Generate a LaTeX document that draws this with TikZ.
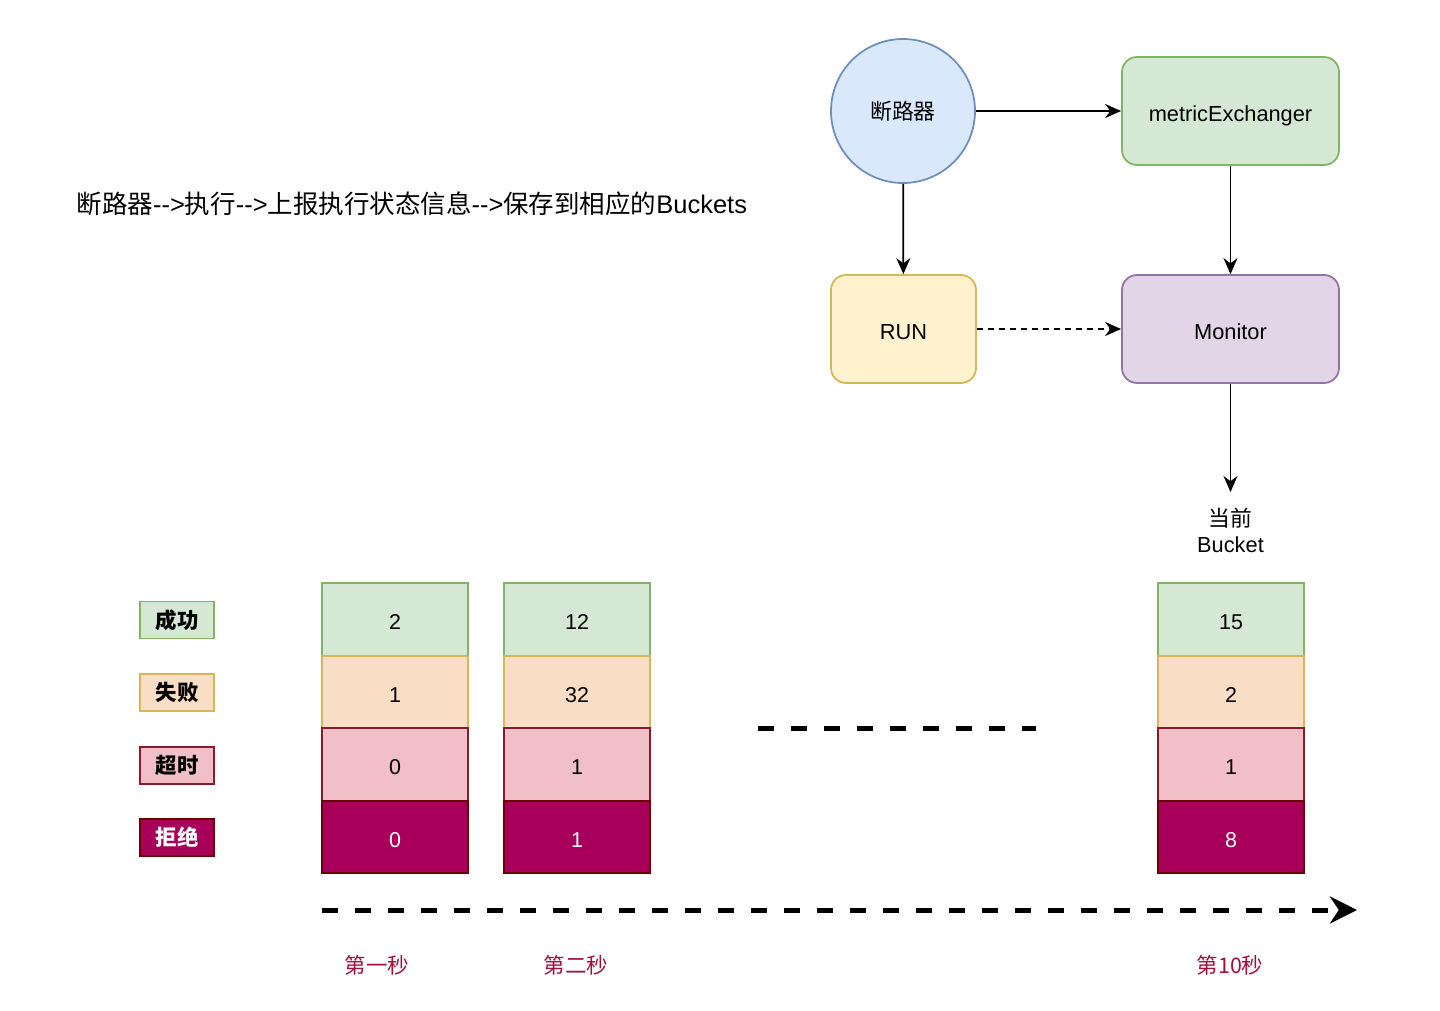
\documentclass[tikz,border=0pt]{standalone}
\usepackage{fontspec}
\setmainfont{Liberation Sans}
\newfontfamily\cjk{Noto Sans CJK SC}
\usetikzlibrary{arrows.meta, positioning}

\definecolor{circfill}{HTML}{DAE8FC}
\definecolor{circdraw}{HTML}{6C8EBF}
\definecolor{okfill}{HTML}{D5E8D4}
\definecolor{okdraw}{HTML}{82B366}
\definecolor{runfill}{HTML}{FFF2CC}
\definecolor{rundraw}{HTML}{D6B656}
\definecolor{monfill}{HTML}{E1D5E7}
\definecolor{mondraw}{HTML}{9673A6}
\definecolor{failfill}{HTML}{F9DDC4}
\definecolor{faildraw}{HTML}{D6B656}
\definecolor{tofill}{HTML}{F0BFC7}
\definecolor{todraw}{HTML}{8B1A2B}
\definecolor{rejfill}{HTML}{A8005A}
\definecolor{rejdraw}{HTML}{6F0000}
\definecolor{seclabel}{HTML}{A0103A}

\tikzstyle{box} = [rectangle, rounded corners=0.15cm, minimum width=2.17cm, minimum height=1.08cm, text centered, text height=0.72em, text depth=0.1em, line width=0.5pt, font=\fontsize{6.2pt}{7.5pt}\selectfont]
\tikzstyle{cell} = [rectangle, minimum width=1.46cm, minimum height=0.725cm, inner sep=0pt, outer sep=0pt, text height=0.72em, text depth=0.15em, line width=0.5pt, font=\fontsize{6.1pt}{7.5pt}\selectfont]
\tikzstyle{legend} = [rectangle, minimum width=0.74cm, minimum height=0.37cm, inner sep=0pt, line width=0.5pt, font=\cjk\bfseries\fontsize{6.1pt}{7.5pt}\selectfont]
\tikzstyle{ok} = [fill=okfill, draw=okdraw]
\tikzstyle{fail} = [fill=failfill, draw=faildraw]
\tikzstyle{tmo} = [fill=tofill, draw=todraw]
\tikzstyle{rej} = [fill=rejfill, draw=rejdraw, text=white]
\tikzstyle{arrow} = [line width=0.5pt, -{Stealth[length=0.16cm, width=0.14cm]}]
\tikzstyle{seconds} = [text=seclabel, font=\cjk\fontsize{6.1pt}{7.5pt}\selectfont]

\begin{document}
\begin{tikzpicture}
\useasboundingbox (0,0) rectangle (14.4,-10.1);

% Title
\node (title) [anchor=west, font=\fontsize{7.25pt}{8.5pt}\selectfont, inner sep=0pt] at (0.76,-2.04)
  {{\cjk 断路器}{-}{-}>{\cjk 执行}{-}{-}>{\cjk 上报执行状态信息}{-}{-}>{\cjk 保存到相应的}Buckets};

% Flow
\node (breaker) [circle, minimum size=1.44cm, fill=circfill, draw=circdraw, line width=0.5pt, font=\cjk\fontsize{6.2pt}{7.5pt}\selectfont] at (9.03,-1.11) {断路器};
\node (exchanger) [box, fill=okfill, draw=okdraw] at (12.305,-1.11) {metricExchanger};
\node (run) [box, minimum width=1.45cm, fill=runfill, draw=rundraw] at (9.035,-3.29) {RUN};
\node (monitor) [box, fill=monfill, draw=mondraw] at (12.305,-3.29) {Monitor};
\coordinate (current) at (12.305,-4.92);
\node (curlabel) [align=center, font=\fontsize{6.2pt}{7.4pt}\selectfont] at (12.305,-5.30) {{\cjk 当前}\\Bucket};

\draw [arrow] (breaker) -- (exchanger);
\draw [arrow] (breaker) -- (run);
\draw [arrow] (exchanger) -- (monitor);
\draw [arrow, dash pattern=on 0.06cm off 0.05cm] (run) -- (monitor);
\draw [arrow] (monitor) -- (current);

% Legend
\node (lok) [legend, ok] at (1.77,-6.20) {成功};
\node (lfail) [legend, fail] at (1.77,-6.925) {失败};
\node (ltmo) [legend, tmo] at (1.77,-7.655) {超时};
\node (lrej) [legend, rej] at (1.77,-8.375) {拒绝};

% Buckets
\node (aok) [cell, ok] at (3.95,-6.195) {2};
\node (afail) [cell, fail, below=0pt of aok] {1};
\node (atmo) [cell, tmo, below=0pt of afail] {0};
\node (arej) [cell, rej, below=0pt of atmo] {0};

\node (bok) [cell, ok] at (5.77,-6.195) {12};
\node (bfail) [cell, fail, below=0pt of bok] {32};
\node (btmo) [cell, tmo, below=0pt of bfail] {1};
\node (brej) [cell, rej, below=0pt of btmo] {1};

\node (cok) [cell, ok] at (12.31,-6.195) {15};
\node (cfail) [cell, fail, below=0pt of cok] {2};
\node (ctmo) [cell, tmo, below=0pt of cfail] {1};
\node (crej) [cell, rej, below=0pt of ctmo] {8};

% Gap and timeline
\coordinate (gapstart) at (7.58,-7.28);
\coordinate (gapend) at (10.36,-7.28);
\draw [line width=0.05cm, dash pattern=on 0.16cm off 0.17cm] (gapstart) -- (gapend);

\coordinate (tstart) at (3.22,-9.10);
\coordinate (tend) at (13.57,-9.10);
\draw [line width=0.05cm, dash pattern=on 0.16cm off 0.17cm, -{Stealth[length=0.27cm, width=0.27cm]}] (tstart) -- (tend);

\node (sec1) [seconds] at (3.77,-9.65) {第一秒};
\node (sec2) [seconds] at (5.76,-9.65) {第二秒};
\node (sec10) [seconds] at (12.30,-9.65) {第10秒};

\end{tikzpicture}
\end{document}
